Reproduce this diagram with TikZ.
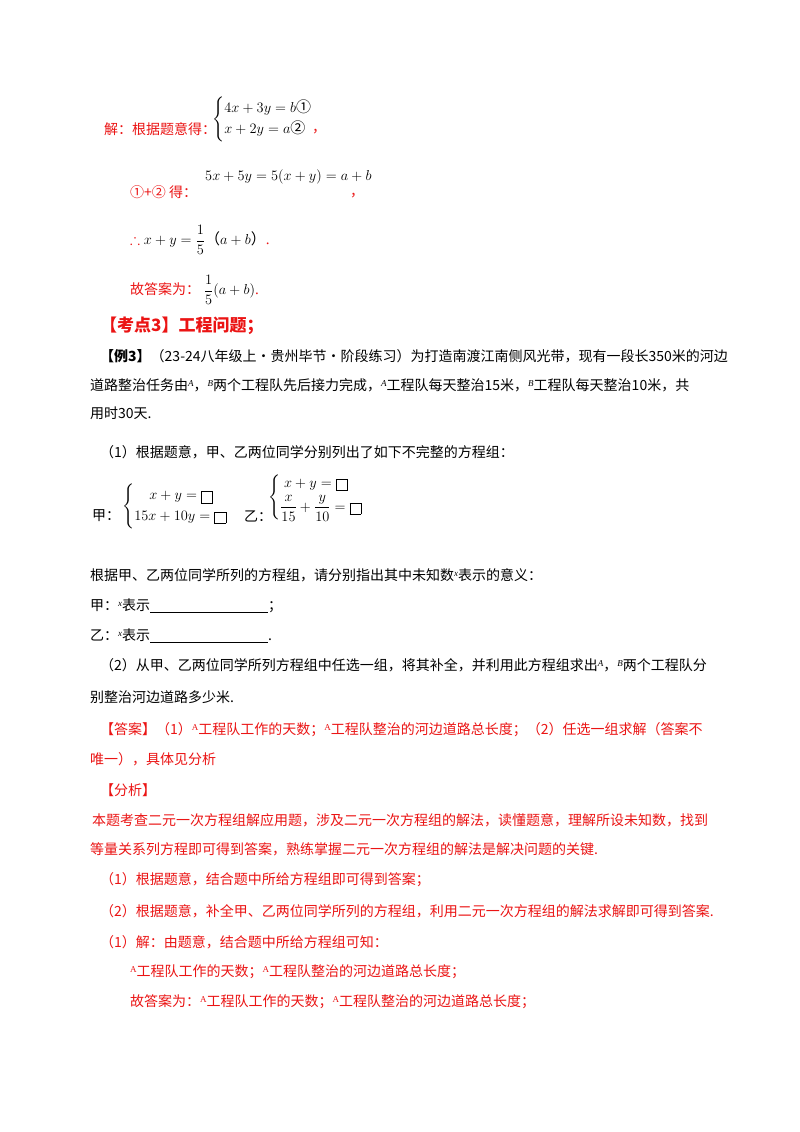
\documentclass[tikz,border=0pt]{standalone}
\usepackage{fontspec}
\usepackage{amsmath,amssymb}
\setmainfont{Liberation Serif}
\newfontfamily\cjk{Noto Sans CJK SC}
\definecolor{ans}{RGB}{235,20,20}
\newcommand{\sA}{\raisebox{4pt}{\fontsize{9}{9}\selectfont\rmfamily A}}
\newcommand{\sAi}{\raisebox{4pt}{\fontsize{9}{9}\selectfont\rmfamily\itshape A}}
\newcommand{\sB}{\raisebox{4pt}{\fontsize{9}{9}\selectfont\rmfamily\itshape B}}
\newcommand{\sx}{\raisebox{4pt}{\fontsize{9}{9}\selectfont\rmfamily\itshape x}}
\newcommand{\bx}{\fbox{\rule{0pt}{5pt}\hspace{5pt}}}
\begin{document}
\begin{tikzpicture}[x=1pt,y=-1pt,
  t/.style={anchor=west,inner sep=0pt,font=\cjk\fontsize{14}{16}\selectfont},
  r/.style={t,text=ans},
  m/.style={anchor=west,inner sep=0pt,font=\fontsize{15}{17}\selectfont}]
\useasboundingbox[fill=white] (0,0) rectangle (800,1132);
\node[r] (l1) at (104,129) {解：根据题意得：};
\node[m] (s1) at (212,119) {$\begin{cases}4x+3y=b\text{\cjk ①}\\ x+2y=a\text{\cjk ②}\end{cases}$};
\node[r] (c1) at (312,132) {，};
\node[r] (l2) at (130,192) {①+② 得：};
\node[m] (e2) at (205,177) {$5x+5y=5(x+y)=a+b$};
\node[r] (c2) at (350,196) {，};
\node[m] (l3) at (130,240) {\textcolor{ans}{$\therefore$} $x+y=\dfrac{1}{5}\text{\cjk（}a+b\text{\cjk）}$\textcolor{ans}{.}};
\node[m] (l4) at (130,290) {\textcolor{ans}{\cjk\fontsize{14}{16}\selectfont 故答案为：} $\dfrac{1}{5}(a+b)$\textcolor{ans}{.}};
\node[r,font=\cjk\bfseries\fontsize{17}{19}\selectfont] (h) at (100,326) {【考点3】工程问题；};
\node[t] (p1) at (100,356) {\textbf{【例3】}（23-24八年级上·贵州毕节·阶段练习）为打造南渡江南侧风光带，现有一段长350米的河边};
\node[t] (p2) at (90,385) {道路整治任务由\sAi，\sB 两个工程队先后接力完成，\sAi 工程队每天整治15米，\sB 工程队每天整治10米，共};
\node[t] (p3) at (90,413) {用时30天.};
\node[t] (q1) at (100,452) {（1）根据题意，甲、乙两位同学分别列出了如下不完整的方程组：};
\node[t] (ja) at (92,516) {甲：};
\node[m] (js) at (122,506) {$\begin{cases}\quad x+y=\bx\\ 15x+10y=\bx\end{cases}$};
\node[t] (yi) at (244,516) {乙：};
\node[m] (ys) at (268,497) {$\begin{cases}\ x+y=\bx\\[2pt] \dfrac{x}{15}+\dfrac{y}{10}=\bx\end{cases}$};
\node[t] (q2) at (90,575) {根据甲、乙两位同学所列的方程组，请分别指出其中未知数\sx 表示的意义：};
\node[t] (q3) at (90,606) {甲：\sx 表示\underline{\hspace{118pt}}；};
\node[t] (q4) at (90,636) {乙：\sx 表示\underline{\hspace{118pt}}.};
\node[t] (q5) at (100,665) {（2）从甲、乙两位同学所列方程组中任选一组，将其补全，并利用此方程组求出\sAi，\sB 两个工程队分};
\node[t] (q6) at (90,697) {别整治河边道路多少米.};
\node[r] (a1) at (100,730) {【答案】（1）\sA 工程队工作的天数；\sA 工程队整治的河边道路总长度；（2）任选一组求解（答案不};
\node[r] (a2) at (90,759) {唯一），具体见分析};
\node[r] (f0) at (100,790) {【分析】};
\node[r] (f1) at (92,820) {本题考查二元一次方程组解应用题，涉及二元一次方程组的解法，读懂题意，理解所设未知数，找到};
\node[r] (f2) at (90,849) {等量关系列方程即可得到答案，熟练掌握二元一次方程组的解法是解决问题的关键.};
\node[r] (f3) at (100,880) {（1）根据题意，结合题中所给方程组即可得到答案；};
\node[r] (f4) at (100,911) {（2）根据题意，补全甲、乙两位同学所列的方程组，利用二元一次方程组的解法求解即可得到答案.};
\node[r] (f5) at (100,942) {（1）解：由题意，结合题中所给方程组可知：};
\node[r] (f6) at (130,972) {\sA 工程队工作的天数；\sA 工程队整治的河边道路总长度；};
\node[r] (f7) at (130,1002) {故答案为：\sA 工程队工作的天数；\sA 工程队整治的河边道路总长度；};
\end{tikzpicture}
\end{document}
